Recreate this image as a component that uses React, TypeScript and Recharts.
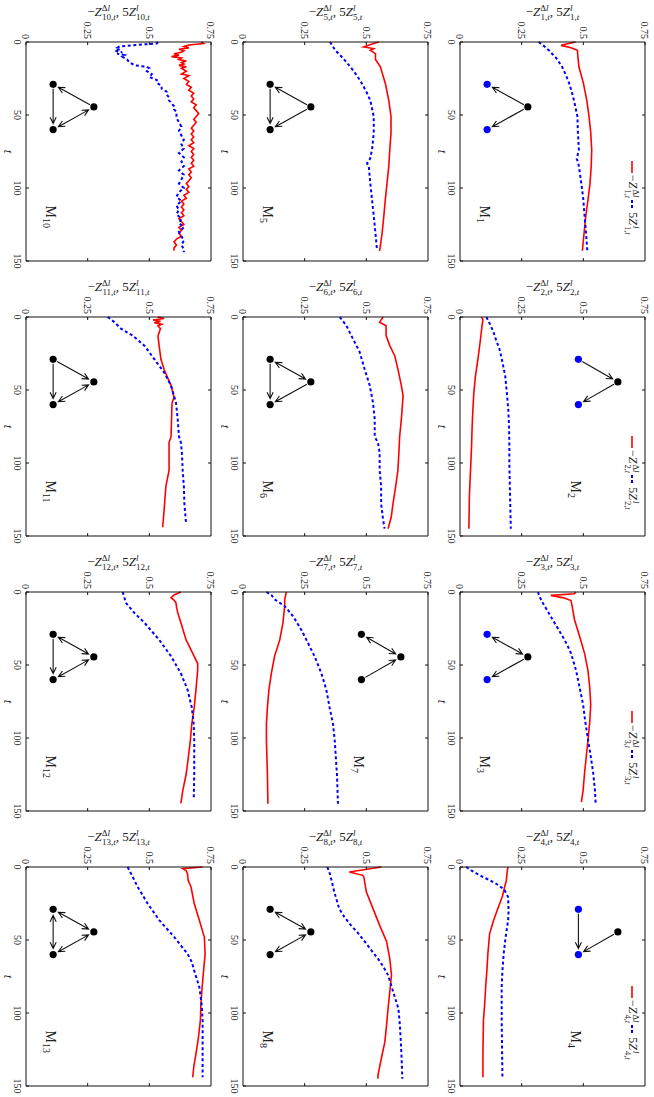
import React from 'react';
import { LineChart, Line, XAxis, YAxis, ReferenceDot, ReferenceLine, Legend } from 'recharts';

type Pt = [number, number];

// series: [t, value]
const m1Red: Pt[] = [[0, 0.469], [1, 0.44], [2.3, 0.41], [4, 0.45], [5.7, 0.476], [10, 0.478], [17, 0.482], [28, 0.5], [40, 0.514], [51, 0.523], [62, 0.53], [74, 0.534], [85, 0.532], [97, 0.527], [108, 0.519], [119, 0.51], [131, 0.503], [143, 0.496]];
const m1Blue: Pt[] = [[0, 0.319], [2, 0.335], [5.7, 0.36], [11, 0.39], [17, 0.414], [23, 0.43], [28, 0.442], [34, 0.453], [40, 0.462], [51, 0.476], [62, 0.478], [74, 0.482], [80, 0.473], [82, 0.478], [85, 0.482], [97, 0.492], [108, 0.5], [119, 0.505], [131, 0.511], [143, 0.516]];

const m2Red: Pt[] = [[0, 0.087], [2, 0.093], [5, 0.09], [16.6, 0.082], [28.5, 0.073], [40, 0.063], [52, 0.056], [64, 0.052], [76, 0.049], [88, 0.047], [100, 0.044], [111, 0.041], [123, 0.038], [145, 0.036]];
const m2Blue: Pt[] = [[0, 0.107], [4.7, 0.121], [10, 0.135], [16.6, 0.148], [22, 0.16], [28.5, 0.169], [40, 0.183], [52, 0.19], [64, 0.196], [76, 0.199], [88, 0.2], [100, 0.2], [123, 0.203], [145, 0.206]];

const m3Red: Pt[] = [[0, 0.47], [1.2, 0.464], [2.3, 0.368], [4, 0.42], [5.9, 0.45], [10, 0.455], [18.8, 0.464], [30.5, 0.485], [42, 0.505], [54, 0.519], [65.6, 0.526], [77, 0.53], [89, 0.526], [101, 0.519], [112.5, 0.512], [124, 0.505], [136, 0.499], [144, 0.492]];
const m3Blue: Pt[] = [[0, 0.316], [3, 0.322], [7, 0.334], [13, 0.355], [18.8, 0.375], [25, 0.397], [30.5, 0.416], [36, 0.434], [42, 0.45], [54, 0.471], [65.6, 0.485], [77, 0.499], [89, 0.508], [101, 0.519], [112.5, 0.53], [124, 0.54], [136, 0.547], [145, 0.55]];

const m4Red: Pt[] = [[0, 0.195], [2, 0.192], [9, 0.188], [13.7, 0.181], [20, 0.172], [25, 0.161], [30, 0.15], [36.6, 0.136], [45.8, 0.12], [59.5, 0.113], [71, 0.109], [82, 0.104], [94, 0.1], [105, 0.095], [128, 0.093], [144, 0.093]];
const m4Blue: Pt[] = [[0, 0.025], [2.3, 0.045], [4.5, 0.068], [6.9, 0.093], [9, 0.12], [11.5, 0.147], [14, 0.168], [16, 0.181], [20.6, 0.195], [30, 0.197], [36.6, 0.195], [48, 0.185], [59.5, 0.177], [71, 0.172], [82, 0.169], [105, 0.169], [144, 0.172]];

const m5Red: Pt[] = [[0, 0.55], [1.5, 0.52], [3.4, 0.489], [4.5, 0.53], [5.7, 0.516], [8, 0.537], [12, 0.537], [17, 0.557], [28.4, 0.577], [40, 0.591], [51, 0.6], [62.5, 0.6], [74, 0.595], [85, 0.591], [96.6, 0.584], [108, 0.577], [119, 0.571], [131, 0.564], [143, 0.554]];
const m5Blue: Pt[] = [[0, 0.353], [5.7, 0.374], [11, 0.405], [17, 0.435], [23, 0.462], [28.4, 0.482], [34, 0.5], [40, 0.516], [51, 0.53], [62.5, 0.53], [74, 0.523], [80, 0.515], [83, 0.503], [85, 0.51], [96.6, 0.516], [108, 0.523], [119, 0.53], [131, 0.537], [142, 0.543]];

const m6Red: Pt[] = [[0, 0.568], [3.5, 0.554], [6, 0.58], [12.7, 0.58], [19.6, 0.595], [26.5, 0.615], [35.7, 0.628], [47, 0.642], [54, 0.649], [70, 0.642], [82, 0.635], [93, 0.632], [105, 0.628], [116, 0.619], [128, 0.608], [137, 0.601], [145, 0.588]];
const m6Blue: Pt[] = [[0, 0.392], [5.8, 0.419], [12.7, 0.439], [24, 0.473], [35.7, 0.493], [47, 0.514], [58.7, 0.527], [70, 0.534], [82, 0.534], [86, 0.547], [93, 0.554], [105, 0.554], [116, 0.56], [128, 0.56], [139, 0.568], [145, 0.574]];

const m7Red: Pt[] = [[0, 0.176], [5, 0.169], [9.7, 0.169], [21, 0.162], [32.8, 0.149], [44, 0.128], [55.8, 0.115], [67, 0.105], [79, 0.099], [90.5, 0.095], [102, 0.095], [125, 0.099], [145, 0.101]];
const m7Blue: Pt[] = [[0, 0.095], [2, 0.115], [5, 0.128], [9.7, 0.169], [16.6, 0.203], [25.8, 0.236], [32.8, 0.257], [44, 0.29], [55.8, 0.318], [67, 0.338], [79, 0.351], [90.5, 0.365], [102, 0.372], [125, 0.381], [145, 0.385]];

const m8Red: Pt[] = [[0, 0.561], [3.4, 0.431], [5.7, 0.486], [7, 0.49], [17, 0.5], [28.5, 0.527], [40, 0.554], [51, 0.582], [62.8, 0.595], [74, 0.602], [85.6, 0.595], [97, 0.588], [108.4, 0.582], [120, 0.575], [131, 0.561], [142.7, 0.547], [145, 0.547]];
const m8Blue: Pt[] = [[0, 0.342], [5, 0.353], [17, 0.37], [28.5, 0.39], [34, 0.41], [40, 0.438], [45, 0.465], [51, 0.493], [57, 0.52], [62.8, 0.547], [68, 0.568], [74, 0.588], [85.6, 0.609], [97, 0.63], [108.4, 0.636], [120, 0.64], [131, 0.643], [145, 0.646]];

const m10Red: Pt[] = [[0, 0.71], [1, 0.72], [2, 0.66], [3, 0.64], [4, 0.66], [5, 0.62], [6, 0.64], [7, 0.63], [8, 0.6], [9, 0.62], [10, 0.59], [11, 0.63], [12, 0.62], [13, 0.65], [14, 0.63], [15, 0.64], [16, 0.62], [17, 0.65], [18, 0.63], [19, 0.64], [20, 0.65], [22, 0.63], [23, 0.66], [25, 0.64], [27, 0.66], [29, 0.65], [31, 0.67], [33, 0.66], [35, 0.68], [37, 0.67], [39, 0.68], [41, 0.67], [43, 0.69], [45, 0.68], [47, 0.69], [49, 0.7], [51, 0.69], [53, 0.68], [55, 0.69], [57, 0.68], [59, 0.67], [61, 0.68], [63, 0.67], [65, 0.68], [67, 0.67], [69, 0.68], [71, 0.66], [73, 0.68], [75, 0.67], [77, 0.68], [79, 0.67], [81, 0.68], [83, 0.67], [85, 0.68], [87, 0.66], [89, 0.67], [91, 0.66], [93, 0.67], [95, 0.66], [97, 0.65], [99, 0.66], [101, 0.65], [103, 0.66], [105, 0.64], [107, 0.65], [109, 0.63], [111, 0.64], [113, 0.63], [115, 0.64], [117, 0.63], [119, 0.64], [121, 0.62], [123, 0.63], [125, 0.64], [127, 0.62], [129, 0.63], [131, 0.62], [133, 0.63], [135, 0.61], [137, 0.6], [139, 0.61], [141, 0.6], [143, 0.6]];
const m10Blue: Pt[] = [[0, 0.535], [1, 0.53], [2, 0.45], [3, 0.38], [4, 0.37], [5, 0.38], [6, 0.36], [7, 0.39], [8, 0.37], [9, 0.4], [10, 0.39], [12, 0.41], [14, 0.42], [16, 0.44], [17, 0.49], [18, 0.5], [20, 0.49], [22, 0.51], [24, 0.5], [26, 0.53], [28, 0.53], [30, 0.55], [32, 0.55], [34, 0.57], [36, 0.57], [38, 0.58], [40, 0.58], [42, 0.59], [44, 0.6], [46, 0.6], [48, 0.61], [50, 0.61], [52, 0.61], [55, 0.62], [58, 0.63], [61, 0.62], [64, 0.63], [67, 0.64], [70, 0.63], [73, 0.64], [76, 0.62], [79, 0.64], [82, 0.63], [85, 0.64], [88, 0.62], [91, 0.64], [94, 0.63], [97, 0.62], [100, 0.64], [103, 0.62], [106, 0.61], [109, 0.63], [112, 0.61], [115, 0.62], [118, 0.61], [121, 0.63], [124, 0.62], [127, 0.64], [130, 0.62], [133, 0.63], [136, 0.64], [139, 0.63], [142, 0.64], [144, 0.64]];

const m11Red: Pt[] = [[0, 0.534], [1, 0.56], [2, 0.515], [3, 0.545], [4, 0.52], [5, 0.55], [6, 0.535], [8, 0.545], [13, 0.535], [20, 0.54], [29, 0.547], [36, 0.56], [47, 0.588], [55, 0.6], [59, 0.592], [70, 0.59], [82, 0.588], [86, 0.58], [105, 0.58], [116, 0.567], [132, 0.56], [144, 0.554]];
const m11Blue: Pt[] = [[0, 0.331], [3.5, 0.358], [8, 0.385], [12.7, 0.432], [19.6, 0.48], [28.8, 0.52], [38, 0.56], [47, 0.588], [58.7, 0.608], [70, 0.615], [81.7, 0.62], [86, 0.628], [93, 0.632], [104.7, 0.635], [116, 0.64], [127.7, 0.642], [141.5, 0.649]];

const m12Red: Pt[] = [[0, 0.628], [2, 0.6], [3.9, 0.588], [5.5, 0.6], [7.4, 0.608], [10, 0.61], [14, 0.615], [21, 0.628], [32.8, 0.649], [42, 0.676], [49, 0.696], [53.5, 0.696], [67, 0.689], [79, 0.682], [90.5, 0.672], [102, 0.666], [113.5, 0.658], [125, 0.649], [136.6, 0.635], [144.7, 0.628]];
const m12Blue: Pt[] = [[0, 0.392], [7.4, 0.405], [14.3, 0.439], [21, 0.48], [32.8, 0.54], [44, 0.588], [55.8, 0.628], [67, 0.655], [79, 0.672], [90.5, 0.68], [102, 0.682], [125, 0.682], [142.4, 0.68]];

const m13Red: Pt[] = [[0, 0.716], [1.1, 0.635], [2.5, 0.649], [4.6, 0.655], [9, 0.657], [13.7, 0.669], [25, 0.682], [36.6, 0.703], [48, 0.723], [59.5, 0.726], [71, 0.72], [82.4, 0.714], [94, 0.709], [105, 0.707], [116.8, 0.699], [128, 0.689], [137, 0.68], [144, 0.676]];
const m13Blue: Pt[] = [[0, 0.412], [4.6, 0.426], [13.7, 0.453], [25, 0.493], [36.6, 0.541], [48, 0.601], [59.5, 0.655], [65, 0.672], [71, 0.682], [82.4, 0.703], [94, 0.712], [105, 0.716], [144, 0.716]];

const tTicks = [0, 50, 100, 150];
const vTicks = [0, 0.25, 0.5, 0.75];

// motif nodes [t, value]
const lowNodes: Record<string, Pt> = { A: [29, 0.11], B: [44.5, 0.275], C: [60, 0.11] };
const highNodes: Record<string, Pt> = { A: [29, 0.48], B: [44.5, 0.64], C: [60, 0.48] };

const RED = '#ff0000';
const BLUE = '#0000ff';
const INK = '#222';
const FRAME = '#111';
const SERIF = "'Liberation Serif', 'DejaVu Serif', serif";

// edges: from, to, head at from, head at to
type Edge = [string, string, boolean, boolean];

const panels = [
  { n: '1', red: m1Red, blue: m1Blue, high: false, blueEnds: true, edges: [['B', 'A', false, true], ['B', 'C', false, true]] as Edge[] },
  { n: '2', red: m2Red, blue: m2Blue, high: true, blueEnds: true, edges: [['A', 'B', false, true], ['B', 'C', false, true]] as Edge[] },
  { n: '3', red: m3Red, blue: m3Blue, high: false, blueEnds: true, edges: [['A', 'B', true, true], ['B', 'C', false, true]] as Edge[] },
  { n: '4', red: m4Red, blue: m4Blue, high: true, blueEnds: true, edges: [['A', 'C', false, true], ['B', 'C', false, true]] as Edge[] },
  { n: '5', red: m5Red, blue: m5Blue, high: false, blueEnds: false, edges: [['B', 'A', false, true], ['B', 'C', false, true], ['A', 'C', false, true]] as Edge[] },
  { n: '6', red: m6Red, blue: m6Blue, high: false, blueEnds: false, edges: [['A', 'B', true, true], ['A', 'C', false, true], ['B', 'C', false, true]] as Edge[] },
  { n: '7', red: m7Red, blue: m7Blue, high: true, blueEnds: false, edges: [['A', 'B', true, true], ['C', 'B', false, true]] as Edge[] },
  { n: '8', red: m8Red, blue: m8Blue, high: false, blueEnds: false, edges: [['A', 'B', true, true], ['B', 'C', true, true]] as Edge[] },
  { n: '10', red: m10Red, blue: m10Blue, high: false, blueEnds: false, edges: [['B', 'A', false, true], ['A', 'C', false, true], ['B', 'C', true, true]] as Edge[] },
  { n: '11', red: m11Red, blue: m11Blue, high: false, blueEnds: false, edges: [['A', 'B', false, true], ['A', 'C', false, true], ['B', 'C', true, true]] as Edge[] },
  { n: '12', red: m12Red, blue: m12Blue, high: false, blueEnds: false, edges: [['A', 'B', true, true], ['A', 'C', false, true], ['B', 'C', true, true]] as Edge[] },
  { n: '13', red: m13Red, blue: m13Blue, high: false, blueEnds: false, edges: [['A', 'B', true, true], ['A', 'C', true, true], ['B', 'C', true, true]] as Edge[] },
];

// layout of the unrotated figure (1097 x 654)
const colX = [42, 317, 592, 867];
const rowY = [9, 226, 443];
const PW = 219;
const PH = 185;
const YW = 45;
const MT = 5;
const MR = 14;
const XH = 30;
// inward tick length on the far sides, in data units (~3px)
const TICK_T = 2;
const TICK_V = 0.012;

function arrowHead(px: number, py: number, dx: number, dy: number) {
  const L = 7;
  const a = 0.45;
  const c = Math.cos(a);
  const s = Math.sin(a);
  const bx = -dx;
  const by = -dy;
  const p1x = px + L * (bx * c - by * s);
  const p1y = py + L * (bx * s + by * c);
  const p2x = px + L * (bx * c + by * s);
  const p2y = py + L * (-bx * s + by * c);
  return `M${p1x},${p1y}L${px},${py}L${p2x},${p2y}`;
}

function Arrow(props: any) {
  const { x1, y1, x2, y2, headStart, headEnd } = props;
  const dx = x2 - x1;
  const dy = y2 - y1;
  const len = Math.hypot(dx, dy) || 1;
  const ux = dx / len;
  const uy = dy / len;
  const s = headStart ? 6 : 4.5;
  const e = headEnd ? 6 : 4.5;
  const sx = x1 + ux * s;
  const sy = y1 + uy * s;
  const ex = x2 - ux * e;
  const ey = y2 - uy * e;
  let d = `M${sx},${sy}L${ex},${ey}`;
  if (headEnd) d += arrowHead(ex, ey, ux, uy);
  if (headStart) d += arrowHead(sx, sy, -ux, -uy);
  return <path d={d} stroke="#111" strokeWidth={1.1} fill="none" />;
}

function YLab({ n }: { n: string }) {
  const x = YW - 26;
  const y = MT + PH / 2;
  return (
    <text x={x} y={y} transform={`rotate(-90 ${x} ${y})`} textAnchor="middle" fontFamily={SERIF} fontSize={13} fill={INK}>
      <tspan>−</tspan>
      <tspan fontStyle="italic">Z</tspan>
      <tspan fontSize={9} dy={-5.5}>Δ<tspan fontStyle="italic">l</tspan></tspan>
      <tspan fontSize={9} dx={-8} dy={9}>{n},<tspan fontStyle="italic">t</tspan></tspan>
      <tspan dy={-3.5}>, 5</tspan>
      <tspan fontStyle="italic">Z</tspan>
      <tspan fontSize={9} dy={-5.5} fontStyle="italic">l</tspan>
      <tspan fontSize={9} dx={-2.5} dy={9}>{n},<tspan fontStyle="italic">t</tspan></tspan>
    </text>
  );
}

function TLab() {
  return (
    <text x={YW + PW / 2} y={MT + PH + 22} textAnchor="middle" fontFamily={SERIF} fontSize={12.5} fontStyle="italic" fill={INK}>
      t
    </text>
  );
}

function ZHtml({ pre, sup, n }: { pre: string; sup: string; n: string }) {
  return (
    <span style={{ whiteSpace: 'nowrap' }}>
      {pre}
      <i>Z</i>
      <span style={{ display: 'inline-flex', flexDirection: 'column', fontSize: 8.5, lineHeight: '8px', verticalAlign: 'middle', marginLeft: 1 }}>
        <span>{sup === 'l' ? <i>l</i> : <>Δ<i>l</i></>}</span>
        <span>{n},<i>t</i></span>
      </span>
    </span>
  );
}

function LegendBox({ n }: { n: string }) {
  return (
    <div style={{ display: 'flex', alignItems: 'center', fontFamily: SERIF, fontSize: 12, color: INK, lineHeight: '16px' }}>
      <svg width={12} height={4}>
        <line x1={0} y1={2} x2={12} y2={2} stroke={RED} strokeWidth={1.6} />
      </svg>
      <span style={{ marginLeft: 2 }}>
        <ZHtml pre="−" sup="Δl" n={n} />
      </span>
      <svg width={10} height={4} style={{ marginLeft: 2 }}>
        <line x1={0} y1={2} x2={10} y2={2} stroke={BLUE} strokeWidth={2} strokeDasharray="3 2" />
      </svg>
      <span style={{ marginLeft: 2 }}>
        <ZHtml pre="5" sup="l" n={n} />
      </span>
    </div>
  );
}

function MLabel(props: any) {
  const { cx, cy, n } = props;
  return (
    <text x={cx} y={cy} fontFamily={SERIF} fontSize={14} fill={INK}>
      M<tspan fontSize={10} dy={3}>{n}</tspan>
    </text>
  );
}

const toRows = (pts: Pt[]) => pts.map(([t, v]) => ({ t, v }));
const innerT = tTicks.slice(1, -1);
const innerV = vTicks.slice(1, -1);

function Panel({ p, row, col }: { p: (typeof panels)[number]; row: number; col: number }) {
  const nodes = p.high ? highNodes : lowNodes;
  const labelV = p.high ? 0.45 : 0.08;
  return (
    <div style={{ position: 'absolute', left: colX[col] - YW, top: rowY[row] - MT }}>
      <LineChart width={YW + PW + MR} height={MT + PH + XH} margin={{ top: MT, right: MR, bottom: 0, left: 0 }}>
        <XAxis
          xAxisId="b"
          dataKey="t"
          type="number"
          domain={[0, 150]}
          ticks={tTicks}
          interval={0}
          height={XH}
          tickSize={-3}
          tickMargin={8}
          axisLine={{ stroke: FRAME }}
          tickLine={{ stroke: FRAME }}
          tick={{ fill: INK, fontSize: 10, fontFamily: SERIF }}
          label={{ content: () => <TLab /> }}
        />
        <YAxis
          yAxisId="l"
          type="number"
          domain={[0, 0.75]}
          ticks={vTicks}
          interval={0}
          width={YW}
          tickSize={-3}
          tickMargin={6}
          axisLine={{ stroke: FRAME }}
          tickLine={{ stroke: FRAME }}
          tick={{ fill: INK, fontSize: 10, fontFamily: SERIF }}
          label={{ content: () => <YLab n={p.n} /> }}
        />
        {/* closing box with inward ticks on the far sides */}
        <ReferenceLine xAxisId="b" yAxisId="l" y={0.75} stroke={FRAME} strokeWidth={1} />
        <ReferenceLine xAxisId="b" yAxisId="l" x={150} stroke={FRAME} strokeWidth={1} />
        {innerT.map((t) => (
          <ReferenceLine key={`tt${t}`} xAxisId="b" yAxisId="l" segment={[{ x: t, y: 0.75 }, { x: t, y: 0.75 - TICK_V }]} stroke={FRAME} />
        ))}
        {innerV.map((v) => (
          <ReferenceLine key={`tv${v}`} xAxisId="b" yAxisId="l" segment={[{ x: 150, y: v }, { x: 150 - TICK_T, y: v }]} stroke={FRAME} />
        ))}
        <Line xAxisId="b" yAxisId="l" data={toRows(p.red)} dataKey="v" type="linear" stroke={RED} strokeWidth={1.6} dot={false} isAnimationActive={false} />
        <Line xAxisId="b" yAxisId="l" data={toRows(p.blue)} dataKey="v" type="linear" stroke={BLUE} strokeWidth={2} strokeDasharray="3 2.6" dot={false} isAnimationActive={false} />
        {p.edges.map(([a, b, hs, he], i) => (
          <ReferenceLine
            key={`e${i}`}
            xAxisId="b"
            yAxisId="l"
            segment={[{ x: nodes[a][0], y: nodes[a][1] }, { x: nodes[b][0], y: nodes[b][1] }]}
            shape={(sp: any) => <Arrow {...sp} headStart={hs} headEnd={he} />}
          />
        ))}
        {['A', 'B', 'C'].map((k) => (
          <ReferenceDot
            key={k}
            xAxisId="b"
            yAxisId="l"
            x={nodes[k][0]}
            y={nodes[k][1]}
            r={3.6}
            fill={p.blueEnds && k !== 'B' ? BLUE : '#000'}
            stroke="none"
          />
        ))}
        <ReferenceDot xAxisId="b" yAxisId="l" x={112} y={labelV} r={1} shape={(sp: any) => <MLabel {...sp} n={p.n} />} />
        {row === 0 && (
          <Legend
            layout="horizontal"
            verticalAlign="middle"
            align="center"
            wrapperStyle={{ left: YW + 119, top: MT + 4, width: 110, height: 16 }}
            content={() => <LegendBox n={p.n} />}
          />
        )}
      </LineChart>
    </div>
  );
}

export default function App() {
  return (
    <div style={{ position: 'fixed', left: 0, top: 0, width: 654, height: 1097, background: '#fff', overflow: 'hidden' }}>
      <div
        style={{
          position: 'absolute',
          left: 0,
          top: 0,
          width: 1097,
          height: 654,
          transformOrigin: '0 0',
          transform: 'translate(654px, 0) rotate(90deg)',
        }}
      >
        {panels.map((p, i) => (
          <Panel key={p.n} p={p} row={Math.floor(i / 4)} col={i % 4} />
        ))}
      </div>
    </div>
  );
}
